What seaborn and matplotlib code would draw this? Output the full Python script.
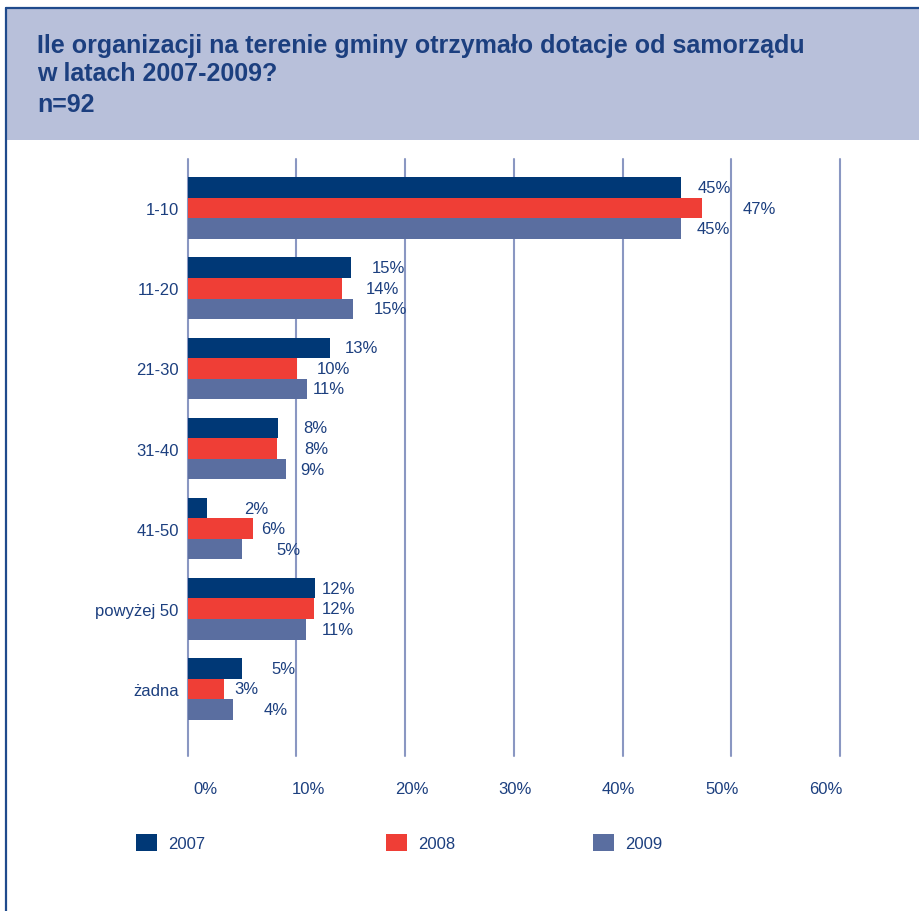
import matplotlib
matplotlib.use("Agg")
import matplotlib.pyplot as plt
import seaborn as sns
import pandas as pd
from matplotlib.patches import Rectangle
from matplotlib.lines import Line2D

# ---------------- data ----------------
categories = ["1-10", "11-20", "21-30", "31-40", "41-50", "powyżej 50", "żadna"]
years = ["2007", "2008", "2009"]
values_2007 = [45.4, 15.0, 13.1, 8.3, 1.75, 11.7, 5.0]
values_2008 = [47.3, 14.2, 10.05, 8.2, 6.0, 11.6, 3.3]
values_2009 = [45.4, 15.2, 11.0, 9.0, 5.0, 10.9, 4.2]
grid_values = [0, 10, 20, 30, 40, 50, 60]
x_tick_labels = ["0%", "10%", "20%", "30%", "40%", "50%", "60%"]
title_lines = ["Ile organizacji na terenie gminy otrzymało dotacje od samorządu",
               "w latach 2007-2009?",
               "n=92"]

# ---------------- style ----------------
sns.set_style("white")
plt.rcParams["font.family"] = ["Liberation Sans", "DejaVu Sans"]

W, H = 919, 912
NAVY_TXT = "#1c3f7f"
colors = ["#003876", "#ef3e36", "#5a6ea0"]
GRID = "#8a97c2"
HEADER = "#b8c0da"
BORDER = "#1f4a8c"
FS = 12

# per-label horizontal nudges (pixels from bar end), layout only
label_dx = [[16, 21, 15, 25, 37, 7, 29],
            [41, 24, 20, 27, 8, 8, 11],
            [15, 21, 5, 15, 34, 16, 30]]

df = pd.DataFrame({
    "category": categories * 3,
    "year": [y for y in years for _ in categories],
    "value": values_2007 + values_2008 + values_2009,
})

fig = plt.figure(figsize=(W / 100, H / 100), dpi=100)

# header band and border
fig.patches.append(Rectangle((6 / W, 1 - 141 / H), 1, 132 / H,
                             transform=fig.transFigure, facecolor=HEADER,
                             edgecolor="none", zorder=0))
fig.lines.append(Line2D([6 / W, 6 / W], [0, 1 - 8.5 / H], transform=fig.transFigure,
                        color=BORDER, lw=1.6))
fig.lines.append(Line2D([6 / W, 1], [1 - 8.5 / H, 1 - 8.5 / H], transform=fig.transFigure,
                        color=BORDER, lw=1.6))

baselines = [53, 81, 112]
for line, b in zip(title_lines, baselines):
    fig.text(37 / W, 1 - b / H, line, fontsize=18, fontweight="bold",
             color=NAVY_TXT, va="baseline", ha="left")

x0, x1 = 187.7, 840
y_top, y_bot = 160, 757
ax = fig.add_axes([x0 / W, 1 - y_bot / H, (x1 - x0) / W, (y_bot - y_top) / H])

sns.barplot(data=df, y="category", x="value", hue="year", orient="h",
            palette=colors, width=0.77, saturation=1, ax=ax,
            order=categories, hue_order=years, zorder=2, linewidth=0)

handles, labels = ax.get_legend_handles_labels()
if ax.get_legend() is not None:
    ax.get_legend().remove()

for gv in grid_values:
    ax.axvline(gv, color=GRID, lw=1.5, zorder=0, clip_on=False)

ax.set_xlim(0, 60)
pitch = 80.1
ax.set_ylim((y_bot - 209.2) / pitch, (y_top - 209.2) / pitch)

# value labels
for i, cont in enumerate(ax.containers):
    for j, patch in enumerate(cont.patches):
        v = patch.get_width()
        yc = patch.get_y() + patch.get_height() / 2
        ax.annotate(f"{v:.0f}%", xy=(v, yc), xytext=(label_dx[i][j], 0),
                    textcoords="offset pixels", ha="left", va="center",
                    fontsize=FS, color=NAVY_TXT, annotation_clip=False)

# x tick labels (spaced slightly tighter than the grid in the original)
lab_start = (205 - x0) / ((x1 - x0) / 60)
lab_step = 103.4 / ((x1 - x0) / 60)
ax.set_xticks([lab_start + k * lab_step for k in range(len(x_tick_labels))])
ax.set_xticklabels(x_tick_labels)
ax.tick_params(axis="x", length=0, pad=18, labelsize=FS, labelcolor=NAVY_TXT)
ax.tick_params(axis="y", length=0, pad=6.5, labelsize=FS, labelcolor=NAVY_TXT)
ax.set_xlabel("")
ax.set_ylabel("")
for s in ax.spines.values():
    s.set_visible(False)
ax.set_facecolor("none")

# legend entries
leg_x = [136, 386, 593]
for h, l, lx in zip(handles, labels, leg_x):
    fig.legend(handles=[h], labels=[l], loc="center left",
               bbox_to_anchor=(lx / W, 1 - 843.5 / H), frameon=False,
               handlelength=1.25, handleheight=1.25, handletextpad=0.7,
               borderpad=0, borderaxespad=0, fontsize=FS, labelcolor=NAVY_TXT)

fig.savefig("out.png", dpi=100)
